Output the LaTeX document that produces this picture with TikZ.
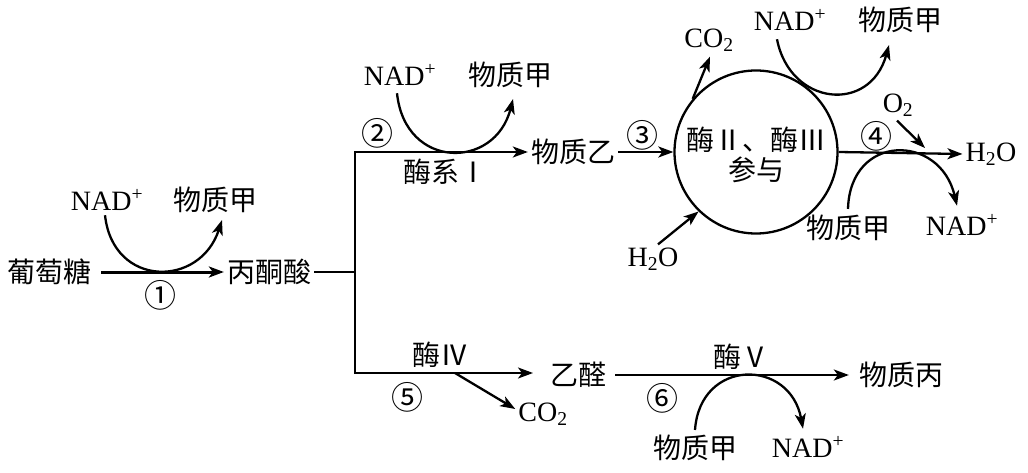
\documentclass[tikz,border=0pt]{standalone}
\usepackage{fontspec}
\setmainfont{Liberation Serif}
\newfontfamily\cjk{Noto Sans CJK SC}
\usetikzlibrary{arrows.meta,calc}
\newcommand\lowtwo{\textsubscript{2}}
\newcommand\plussup{\textsuperscript{+}}
\begin{document}
\begin{tikzpicture}[x=1pt,y=-1pt, line width=2.3pt,
  mytip/.tip={Stealth[length=15pt,width=11pt,inset=4pt]},
  zh/.style={font=\cjk\fontsize{28}{30}\selectfont, inner sep=2pt},
  la/.style={font=\fontsize{28}{30}\selectfont, inner sep=2pt},
  num/.style={font=\cjk\fontsize{32}{34}\selectfont, inner sep=0pt},
  arr/.style={-mytip},
  ]
\useasboundingbox (0,0) rectangle (1028,473);
% nodes
\node[zh] (glu) at (50,272) {葡萄糖};
\node[zh] (pyr) at (269,272) {丙酮酸};
\node[la] (nad1) at (107,200) {NAD\plussup};
\node[zh] (jia1) at (215,200) {物质甲};
\node[num] (n1) at (160,295) {①};
\node[la] (nad2) at (400,75) {NAD\plussup};
\node[zh] (jia2) at (510,75) {物质甲};
\node[num] (n2) at (377,133) {②};
\node[zh] (mx1) at (445,172) {酶系Ⅰ};
\node[zh] (yi) at (573,152) {物质乙};
\node[num] (n3) at (642,135) {③};
\node[draw, circle, minimum size=163pt, inner sep=0pt] (circ) at (756,152) {};
\node[zh] (e1) at (756,140) {酶Ⅱ、酶Ⅲ};
\node[zh] (e2) at (756,170) {参与};
\node[la] (co2a) at (709,40) {CO\lowtwo};
\node[la] (nad3) at (790,20) {NAD\plussup};
\node[zh] (jia3) at (900,20) {物质甲};
\node[num] (n4) at (876,136) {④};
\node[la] (o2) at (898,105) {O\lowtwo};
\node[la] (h2oa) at (991,154) {H\lowtwo O};
\node[zh] (jia4) at (848,228) {物质甲};
\node[la] (nad4) at (962,225) {NAD\plussup};
\node[la] (h2ob) at (653,259) {H\lowtwo O};
\node[zh] (mx4) at (440,355) {酶Ⅳ};
\node[num] (n5) at (407,397) {⑤};
\node[la] (co2b) at (543,414) {CO\lowtwo};
\node[zh] (ald) at (578,375) {乙醛};
\node[zh] (mx5) at (741,357) {酶Ⅴ};
\node[num] (n6) at (662,398) {⑥};
\node[zh] (bing) at (901,375) {物质丙};
\node[zh] (jia5) at (695,448) {物质甲};
\node[la] (nad5) at (808,447) {NAD\plussup};
% coordinates
\coordinate (br) at (355,272);
\coordinate (ctop) at (355,152);
\coordinate (cbot) at (355,373);
\coordinate (b4tip) at (533,373);
\coordinate (o2tip) at (925,148);
\coordinate (b5) at (455,373);
% main connectors
\draw[arr, line width=3pt, shorten <=6pt] (glu.east) -- (pyr.west);
\draw (pyr.east) -- (br);
\draw[mytip-mytip] (b4tip) -- (cbot) -- (ctop) -- (yi.west);
\draw[arr] (yi.east) -- (circ.west);
\draw[arr] (circ.140) -- ([xshift=1pt,yshift=-2pt]co2a.south);
\draw[arr] (circ.east) -- (h2oa.west);
\draw[arr] ([xshift=-1pt,yshift=-1pt]o2.south) -- (o2tip);
\draw[arr] ([xshift=5pt]h2ob.north) -- (circ.226);
\draw[arr] (b5) -- ([yshift=5pt]co2b.west);
\draw[arr, shorten <=6pt, shorten >=7pt] (ald.east) -- (bing.west);
% cofactor curves
\draw[arr] ([xshift=-2pt,yshift=-2pt]nad1.south) .. controls (113,288) and (200,288) .. ([xshift=7pt,yshift=-4pt]jia1.south);
\draw[arr] ([xshift=-3pt,yshift=-5pt]nad2.south) .. controls (405,170) and (495,170) .. ([xshift=3pt,yshift=-8pt]jia2.south);
\draw[arr] ([xshift=-13pt,yshift=-6pt]nad3.south) .. controls (790,106) and (870,114) .. ([xshift=-11pt,yshift=-9pt]jia3.south);
\draw[arr] ([yshift=3pt]jia4.north) .. controls (850,133) and (940,133) .. ([xshift=-5pt,yshift=6pt]nad4.north);
\draw[arr] ([yshift=2pt]jia5.north) .. controls (700,358) and (790,358) .. ([xshift=-5pt,yshift=5pt]nad5.north);
\end{tikzpicture}
\end{document}
